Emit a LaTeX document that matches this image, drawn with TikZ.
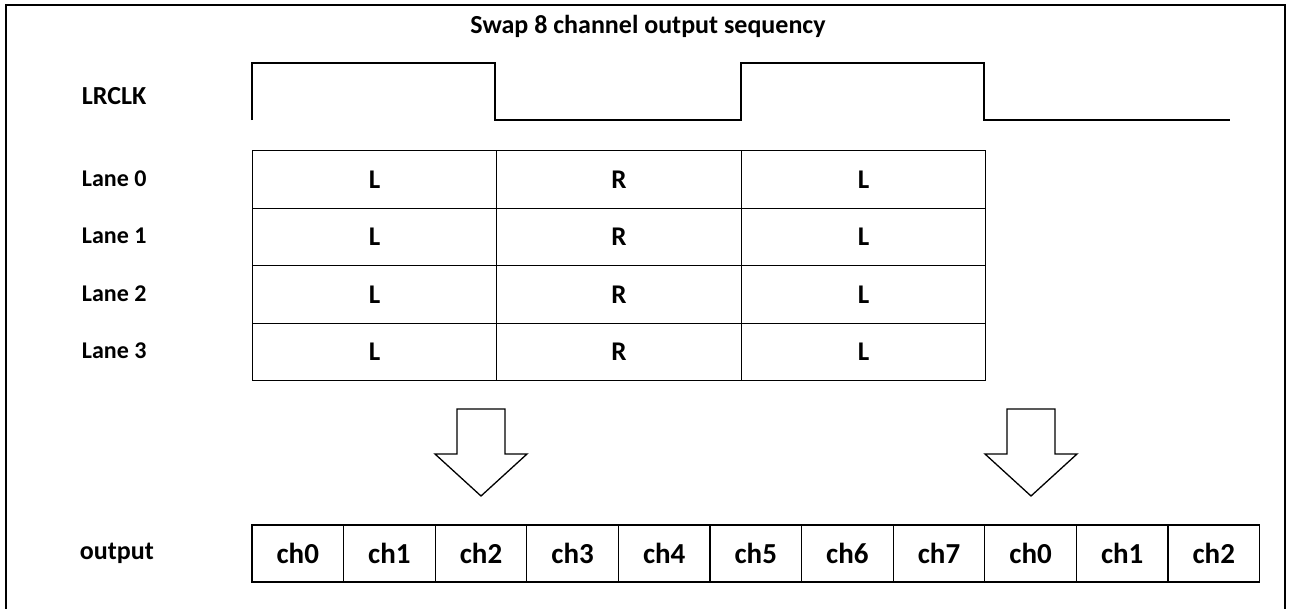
\documentclass[tikz,border=0pt]{standalone}
\usepackage{fontspec}
\setmainfont{Carlito}
\begin{document}
\begin{tikzpicture}[x=1pt,y=-1pt,line width=1.3pt,
  lbl/.style={anchor=base west,font=\bfseries\fontsize{24}{28}\selectfont},
  cell/.style={draw,minimum width=244.5pt,minimum height=57.5pt,inner sep=0pt,font=\bfseries\fontsize{27}{30}\selectfont},
  chbox/.style={draw,minimum width=91.6pt,minimum height=57pt,inner sep=0pt,font=\bfseries\fontsize{29}{34}\selectfont}]
\useasboundingbox (0,0) rectangle (1293,608);
\clip (0,0) rectangle (1293,608);
\draw (6,5) rectangle (1285,640);
\node[anchor=base,font=\bfseries\fontsize{26}{30}\selectfont] (title) at (648,33) {Swap 8 channel output sequency};
% clock
\node[lbl,font=\bfseries\fontsize{26}{30}\selectfont] (lrclk) at (78,104) {LRCLK};
\draw (252,120) -- (252,63) -- (495,63) -- (495,120) -- (741,120) -- (741,63)
  -- (984,63) -- (984,120) -- (1230,120);
% lanes
\foreach \r in {0,...,3}{
  \node[lbl] (lane\r) at (78,{186+57.5*\r}) {Lane \r};
  \foreach \c/\t in {0/L,1/R,2/L}
    \node[cell] (lane\r c\c) at ({374.5+244.5*\c},{179.5+57.5*\r}) {\t};
}
% arrows
\foreach \ax in {481,1031}
  \draw ({\ax-24},409) -- ({\ax+24},409) -- ({\ax+24},454) -- ({\ax+46},454)
    -- (\ax,496) -- ({\ax-46},454) -- ({\ax-24},454) -- cycle;
% output
\node[lbl,font=\bfseries\fontsize{26}{30}\selectfont] (output) at (76,559) {output};
\foreach \i/\t in {0/ch0,1/ch1,2/ch2,3/ch3,4/ch4,5/ch5,6/ch6,7/ch7,8/ch0,9/ch1,10/ch2}
  \node[chbox] (out\i) at ({252+91.6*(\i+0.5)},553.5) {\t};
\end{tikzpicture}
\end{document}
